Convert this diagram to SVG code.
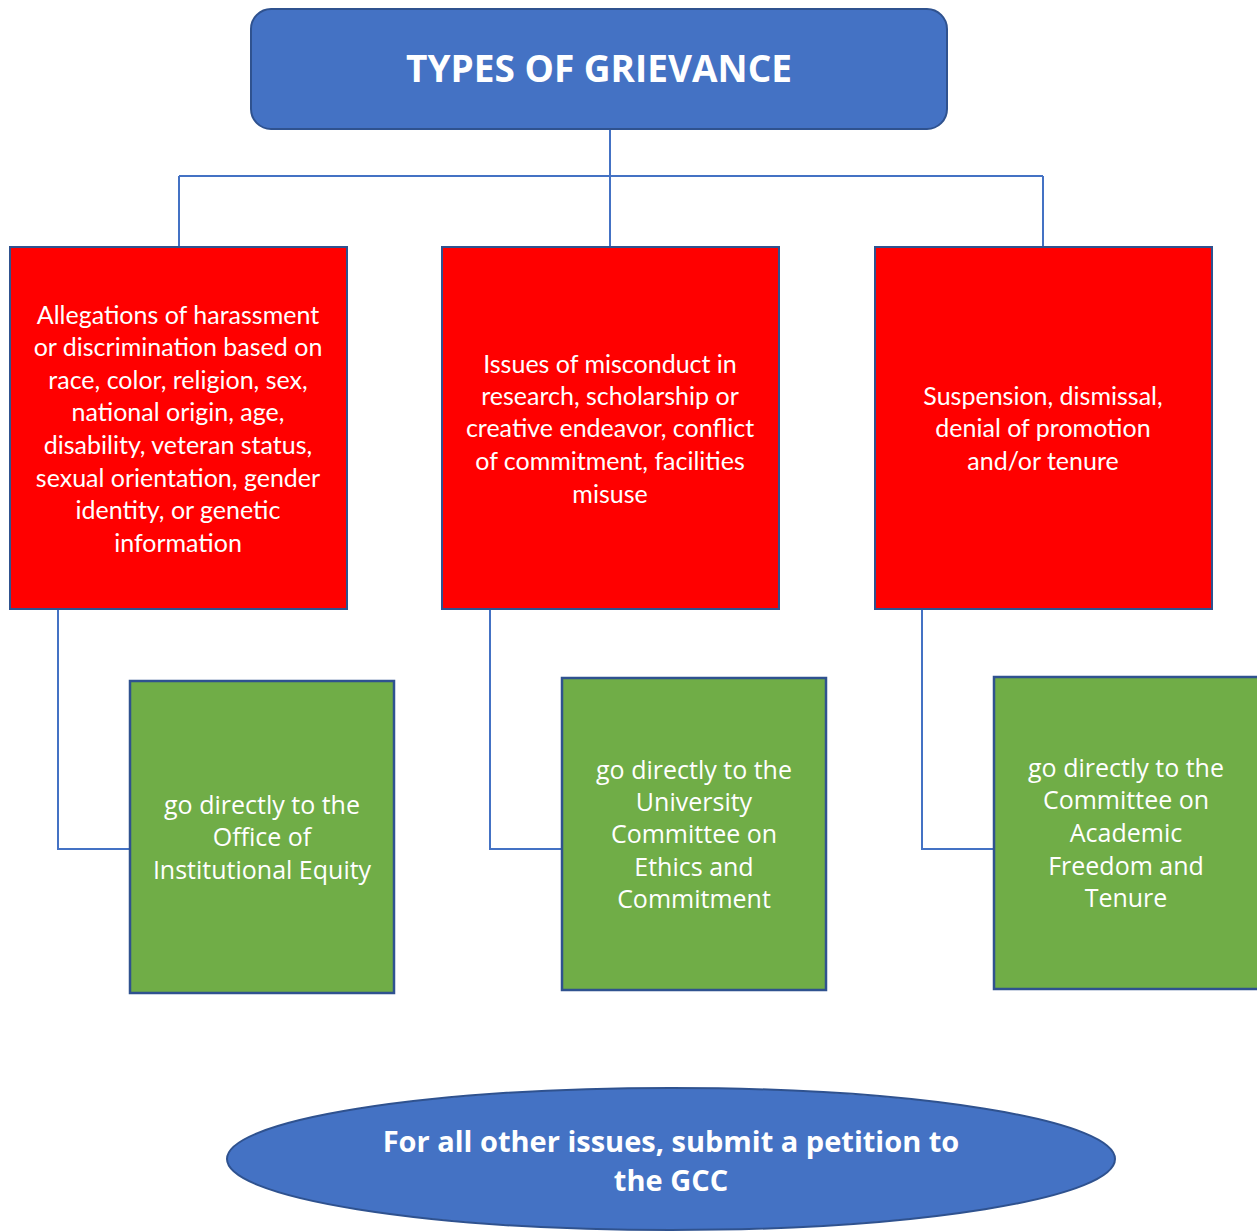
<svg xmlns="http://www.w3.org/2000/svg" width="1257" height="1232" viewBox="0 0 1257 1232">
<style>
.blue{fill:#4472C4;stroke:#2F528F;stroke-width:2}
.red{fill:#FF0000;stroke:#2F528F;stroke-width:2}
.green{fill:#70AD47;stroke:#2F528F;stroke-width:2.5}
.conn{fill:none;stroke:#4472C4;stroke-width:2}
.title{font-family:"Open Sans","Liberation Sans",sans-serif;font-weight:700;fill:#fff;text-anchor:middle}
.rt{font-family:Lato,"Liberation Sans",sans-serif;font-size:25px;fill:#fff;text-anchor:middle}
.gt{font-family:"Open Sans","Liberation Sans",sans-serif;font-size:25px;fill:#fff;text-anchor:middle}
</style>
<rect width="1257" height="1232" fill="#fff"/>
<g id="connectors">
<path class="conn" d="M610 129V247M179 176H1043M179 176V247M1043 176V247"/>
<path class="conn" d="M58 609V849H130M490 609V849H562M922 609V849H994"/>
</g>
<g id="title">
<rect class="blue" x="251" y="9" width="696" height="120" rx="20"/>
<text class="title" x="599" y="82" font-size="37">TYPES OF GRIEVANCE</text>
</g>
<g id="red1">
<rect class="red" x="10" y="247" width="337" height="362"/>
<text class="rt"><tspan x="178" y="324">Allegations of harassment</tspan><tspan x="178" y="356">or discrimination based on</tspan><tspan x="178" y="389">race, color, religion, sex,</tspan><tspan x="178" y="421">national origin, age,</tspan><tspan x="178" y="454">disability, veteran status,</tspan><tspan x="178" y="487">sexual orientation, gender</tspan><tspan x="178" y="519">identity, or genetic</tspan><tspan x="178" y="552">information</tspan></text>
</g>
<g id="red2">
<rect class="red" x="442" y="247" width="337" height="362"/>
<text class="rt"><tspan x="610" y="373">Issues of misconduct in</tspan><tspan x="610" y="405">research, scholarship or</tspan><tspan x="610" y="437">creative endeavor, conflict</tspan><tspan x="610" y="470">of commitment, facilities</tspan><tspan x="610" y="503">misuse</tspan></text>
</g>
<g id="red3">
<rect class="red" x="875" y="247" width="337" height="362"/>
<text class="rt"><tspan x="1043" y="405">Suspension, dismissal,</tspan><tspan x="1043" y="437">denial of promotion</tspan><tspan x="1043" y="470">and/or tenure</tspan></text>
</g>
<g id="green1">
<rect class="green" x="130" y="681" width="264" height="312"/>
<text class="gt"><tspan x="262" y="814">go directly to the</tspan><tspan x="262" y="846">Office of</tspan><tspan x="262" y="879">Institutional Equity</tspan></text>
</g>
<g id="green2">
<rect class="green" x="562" y="678" width="264" height="312"/>
<text class="gt"><tspan x="694" y="779">go directly to the</tspan><tspan x="694" y="811">University</tspan><tspan x="694" y="843">Committee on</tspan><tspan x="694" y="876">Ethics and</tspan><tspan x="694" y="908">Commitment</tspan></text>
</g>
<g id="green3">
<rect class="green" x="994" y="677" width="274" height="312"/>
<text class="gt"><tspan x="1126" y="777">go directly to the</tspan><tspan x="1126" y="809">Committee on</tspan><tspan x="1126" y="842">Academic</tspan><tspan x="1126" y="875">Freedom and</tspan><tspan x="1126" y="907">Tenure</tspan></text>
</g>
<g id="gcc">
<ellipse class="blue" cx="671" cy="1159" rx="444" ry="71"/>
<text class="title" font-size="29"><tspan x="671" y="1152">For all other issues, submit a petition to</tspan><tspan x="671" y="1191">the GCC</tspan></text>
</g>
</svg>
